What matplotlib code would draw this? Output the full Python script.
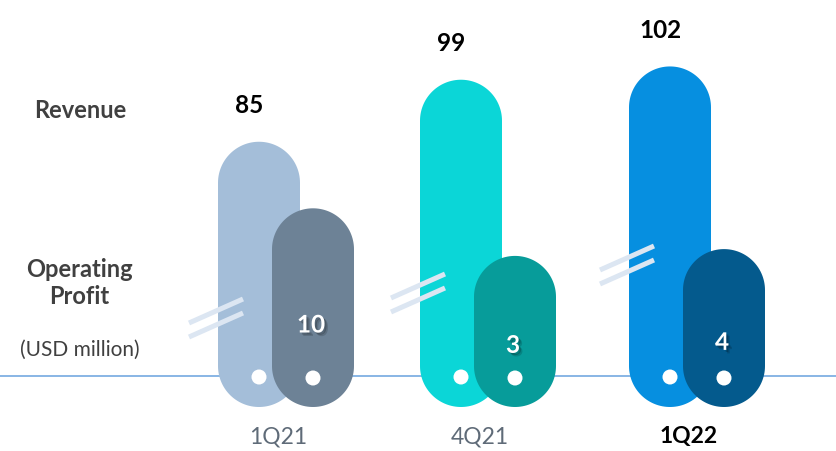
import numpy as np
import matplotlib.pyplot as plt
from matplotlib.patches import PathPatch, Circle
from matplotlib.path import Path
import matplotlib.patheffects as pe

# data
quarters = ['1Q21', '4Q21', '1Q22']
revenue = [85, 99, 102]
op_profit = [10, 3, 4]
rev_colors = ['#a4bed9', '#0bd6d7', '#068fe0']
op_colors = ['#6d8296', '#079c9a', '#045a8d']

plt.rcParams['font.family'] = ['Lato', 'DejaVu Sans']

W, H = 837, 452
fig = plt.figure(figsize=(W / 100, H / 100), dpi=100)
ax = fig.add_axes([0, 0, 1, 1])
ax.set_xlim(0, W)
ax.set_ylim(0, H)
ax.axis('off')

# layout in pixel units (broken axis -> two separate linear scales)
base_y = 75
below = 31
bar_w = 82
r = bar_w / 2
group_x = [259, 461, 670]   # revenue bar centres
op_dx = 54


def rev_h(v):
    return 4.43 * v - 142.3


def op_h(v):
    return 6.8 * v + 99.7


def pill(cx, y0, y1, color, z):
    # capsule shape: semicircle top and bottom
    t1 = np.linspace(0, np.pi, 60)
    t2 = np.linspace(np.pi, 2 * np.pi, 60)
    xs = np.concatenate([cx + r * np.cos(t1), cx + r * np.cos(t2)])
    ys = np.concatenate([y1 - r + r * np.sin(t1), y0 + r + r * np.sin(t2)])
    verts = np.column_stack([xs, ys])
    verts = np.vstack([verts, verts[:1]])
    codes = [Path.MOVETO] + [Path.LINETO] * (len(verts) - 2) + [Path.CLOSEPOLY]
    ax.add_patch(PathPatch(Path(verts, codes), fc=color, ec='none', zorder=z))


# baseline
ax.plot([0, W], [base_y, base_y], color='#7fb0e3', lw=1.3, zorder=1)

break_y = [58, 83, 111]
for i, q in enumerate(quarters):
    cx = group_x[i]
    # revenue pill
    top = base_y + rev_h(revenue[i])
    pill(cx, base_y - below, top, rev_colors[i], 2)
    ax.text(cx - 10, top + 37, str(revenue[i]), ha='center', va='center',
            fontsize=17.5, fontweight='bold', color='black', zorder=5)
    ax.add_patch(Circle((cx, base_y - 1), 7.5, fc='white', ec='none', zorder=3))

    # break marks
    by = base_y + break_y[i]
    for off in (7, -7):
        ax.plot([cx - r - 29, cx - r + 25], [by + off - 12, by + off + 12],
                color='#dce6f2', lw=3.6, solid_capstyle='butt', zorder=4)

    # operating profit pill
    ox = cx + op_dx
    otop = base_y + op_h(op_profit[i])
    pill(ox, base_y - below, otop, op_colors[i], 5)
    ax.add_patch(Circle((ox, base_y - 2), 7.5, fc='white', ec='none', zorder=6))
    t = ax.text(ox - 2, base_y + 22 + 2.9 * op_profit[i], str(op_profit[i]),
                ha='center', va='center', fontsize=17.5, fontweight='bold',
                color='white', zorder=7)
    t.set_path_effects([pe.SimplePatchShadow(offset=(2.5, -2.5), shadow_rgbFace='black', alpha=0.15),
                        pe.SimplePatchShadow(offset=(1.5, -1.5), shadow_rgbFace='black', alpha=0.2),
                        pe.Normal()])

    # category label
    last = i == len(quarters) - 1
    ax.text(cx + op_dx / 2 - 8, 15, q, ha='center', va='center', fontsize=16.5,
            fontweight='bold' if last else 'normal',
            color='black' if last else '#5f6b78')

# left side labels
ax.text(80, H - 110, 'Revenue', ha='center', va='center', fontsize=17,
        fontweight='bold', color='#404040')
ax.text(79, H - 283, 'Operating\nProfit', ha='center', va='center', fontsize=17,
        fontweight='bold', color='#404040', linespacing=1.25)
ax.text(80, H - 350, '(USD million)', ha='center', va='center', fontsize=15,
        color='#404040')

fig.savefig('out.png', dpi=100)
